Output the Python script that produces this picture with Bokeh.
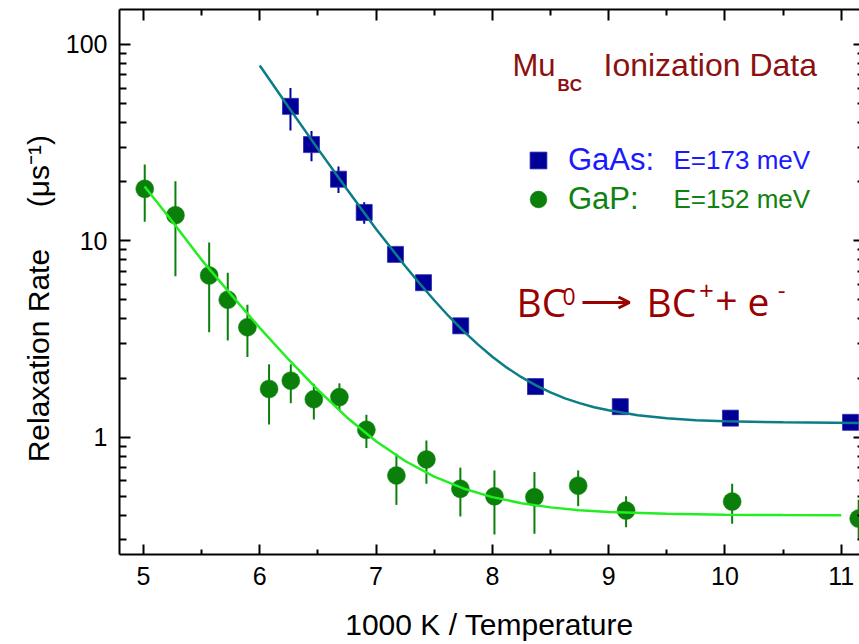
import math
from bokeh.plotting import figure
from bokeh.models import (FixedTicker, LinearAxis, LogAxis, Label, Legend, LegendItem,
                          Range1d, CustomJSTickFormatter, Arrow, OpenHead)
from bokeh.embed import file_html
from bokeh.resources import INLINE

# ---------------- data ----------------
gaas_x = [6.264, 6.445, 6.677, 6.898, 7.167, 7.408, 7.728, 8.371, 9.10, 10.047, 11.08]
gaas_y = [48.4, 30.9, 20.6, 13.95, 8.53, 6.12, 3.69, 1.81, 1.43, 1.25, 1.19]
gaas_lo = [36.5, 25.4, 17.5, 12.2, 8.2, 5.9, 3.58, 1.76, 1.40, 1.22, 1.16]
gaas_hi = [60.0, 36.3, 23.9, 15.7, 8.9, 6.35, 3.8, 1.86, 1.46, 1.28, 1.22]

gap_x = [5.011, 5.275, 5.565, 5.725, 5.894, 6.080, 6.267, 6.465, 6.685, 6.917,
         7.175, 7.433, 7.725, 8.018, 8.362, 8.738, 9.150, 10.062, 11.15]
gap_y = [18.4, 13.5, 6.66, 5.01, 3.63, 1.76, 1.94, 1.56, 1.60, 1.09,
         0.638, 0.770, 0.546, 0.50, 0.495, 0.566, 0.423, 0.470, 0.385]
gap_lo = [12.5, 6.6, 3.42, 3.11, 2.56, 1.16, 1.49, 1.23, 1.37, 0.88,
          0.452, 0.579, 0.395, 0.319, 0.322, 0.445, 0.348, 0.362, 0.30]
gap_hi = [24.5, 20.1, 9.8, 6.88, 4.73, 2.35, 2.35, 1.87, 1.88, 1.30,
          0.823, 0.962, 0.70, 0.677, 0.664, 0.677, 0.50, 0.579, 0.48]

gaas_fit_x = [6.0, 6.25, 6.5, 6.75, 7.0, 7.25, 7.375, 7.5, 7.625, 7.75, 7.875, 8.0,
              8.125, 8.25, 8.375, 8.5, 8.625, 8.75, 8.875, 9.0, 9.25, 9.5, 9.75,
              10.0, 10.5, 11.16]
gaas_fit_y = [78.1, 47.8, 29.4, 18.3, 11.5, 7.45, 6.06, 4.98, 4.13, 3.48, 2.97, 2.57,
              2.26, 2.02, 1.835, 1.69, 1.577, 1.49, 1.42, 1.37, 1.293, 1.25, 1.221,
              1.205, 1.19, 1.18]

gap_fit_x = [5.01, 5.25, 5.5, 5.75, 6.0, 6.25, 6.5, 6.75, 7.0, 7.25, 7.5, 7.75,
             8.0, 8.25, 8.5, 8.75, 9.0, 9.5, 10.0, 10.5, 11.0]
gap_fit_y = [18.9, 12.5, 8.0, 5.35, 3.6, 2.48, 1.74, 1.26, 0.953, 0.756, 0.629, 0.548,
             0.495, 0.461, 0.439, 0.425, 0.416, 0.407, 0.403, 0.401, 0.400]

x_ticks = [5, 6, 7, 8, 9, 10, 11]
x_minor = [5.5, 6.5, 7.5, 8.5, 9.5, 10.5]
y_ticks = [1, 10, 100]
y_minor = [0.3, 0.4, 0.5, 0.6, 0.7, 0.8, 0.9, 2, 3, 4, 5, 6, 7, 8, 9,
           20, 30, 40, 50, 60, 70, 80, 90]

# ---------------- colours / fonts ----------------
SANS = "Liberation Sans"
SQ_COL = "#000099"
CIR_COL = "#0a800a"
TEAL = "#0b7d86"
LIME = "#22ee22"
TITLE_COL = "#8b1010"
EQ_COL = "#9b0000"
BLUE_TXT = "#1a1aff"
GREEN_TXT = "#0f820f"

p = figure(width=859, height=644, output_backend="svg", toolbar_location=None,
           y_axis_type="log",
           x_range=Range1d(4.794, 11.157), y_range=Range1d(0.2526, 150.7),
           min_border_left=119, min_border_right=0, min_border_top=9,
           min_border_bottom=90)
p.outline_line_color = None
p.grid.visible = False
p.background_fill_color = "white"
p.border_fill_color = "white"

# error bars
p.segment(x0=gap_x, y0=gap_lo, x1=gap_x, y1=gap_hi, line_color=CIR_COL, line_width=2)
p.segment(x0=gaas_x, y0=gaas_lo, x1=gaas_x, y1=gaas_hi, line_color=SQ_COL, line_width=2)

# markers
cir = p.scatter(gap_x, gap_y, marker="circle", size=18, fill_color=CIR_COL,
                line_color=CIR_COL, line_width=0.5)
sq = p.scatter(gaas_x, gaas_y, marker="square", size=16, fill_color=SQ_COL,
               line_color="#2b2bb0", line_width=0.8)

# fit curves
p.line(gap_fit_x, gap_fit_y, line_color=LIME, line_width=2.5)
p.line(gaas_fit_x, gaas_fit_y, line_color=TEAL, line_width=2.5)

# ---------------- axes ----------------
xb = p.xaxis[0]
yl = p.yaxis[0]
xb.ticker = FixedTicker(ticks=x_ticks, minor_ticks=x_minor)
yl.ticker = FixedTicker(ticks=y_ticks, minor_ticks=y_minor)
yl.formatter = CustomJSTickFormatter(code="return String(tick)")

for ax in (xb, yl):
    ax.axis_line_width = 2
    ax.axis_line_color = "black"
    ax.major_tick_line_width = 2
    ax.minor_tick_line_width = 2
    ax.major_tick_out = 0
    ax.minor_tick_out = 0
    ax.major_label_text_font = SANS
    ax.major_label_text_font_size = "25px"
    ax.major_label_text_color = "black"
    ax.axis_label_text_font = SANS
    ax.axis_label_text_font_size = "30px"
    ax.axis_label_text_font_style = "normal"
    ax.axis_label_text_color = "black"

xb.major_tick_in = 10
xb.minor_tick_in = 5
xb.major_label_standoff = 12
xb.axis_label = "1000 K / Temperature"
xb.axis_label_standoff = 20

yl.major_tick_in = 11
yl.minor_tick_in = 7
yl.major_label_standoff = 12
yl.axis_label = ("Relaxation Rate\u00a0\u00a0\u00a0\u00a0\u00a0(\u03bcs\u207b\u00b9)"
                 "\u00a0\u00a0\u00a0\u00a0")
yl.axis_label_standoff = 8

top = LinearAxis(ticker=FixedTicker(ticks=x_ticks, minor_ticks=x_minor),
                 formatter=CustomJSTickFormatter(code="return ''"),
                 axis_line_width=2, major_tick_line_width=2, minor_tick_line_width=2,
                 major_tick_in=11, minor_tick_in=6, major_tick_out=0, minor_tick_out=0,
                 major_label_text_font_size="1px", major_label_standoff=0)
p.add_layout(top, "above")

right = LogAxis(ticker=FixedTicker(ticks=y_ticks, minor_ticks=y_minor),
                formatter=CustomJSTickFormatter(code="return ''"),
                axis_line_alpha=0, major_tick_line_width=2, minor_tick_line_width=2,
                major_tick_in=6, minor_tick_in=2, major_tick_out=0, minor_tick_out=0,
                major_label_text_font_size="1px", major_label_standoff=0)
p.add_layout(right, "right")

# ---------------- annotation placement (canvas px -> frame screen units) ----------------
FL, FB = 119, 554


def lab(px, py, text, size, color, font=SANS, style="normal", align="left",
        baseline="alphabetic"):
    # py is the wanted baseline (or centre for "middle"); small empirical correction
    corr = 0.4 * size if baseline == "alphabetic" else 0.1 * size
    p.add_layout(Label(x=px - FL, y=FB - (py - corr), x_units="screen", y_units="screen",
                       text=text, text_font_size=f"{size}px", text_color=color,
                       text_font=font, text_font_style=style, text_align=align,
                       text_baseline=baseline))


# title
lab(512, 77, "Mu", 31, TITLE_COL)
lab(557, 92, "BC", 17, TITLE_COL, style="bold")
lab(603, 77, "Ionization Data", 32, TITLE_COL)

# legends (one per series so the label colours differ)
for rend, name, col, cy in ((sq, "GaAs:", BLUE_TXT, 160), (cir, "GaP:", GREEN_TXT, 199)):
    leg = Legend(items=[LegendItem(label=name, renderers=[rend])],
                 location=(398, FB - (cy + 21)), padding=0, margin=0, spacing=0,
                 glyph_width=42, glyph_height=42, label_standoff=9,
                 label_text_font=SANS, label_text_font_size="31px",
                 label_text_color=col, border_line_color=None,
                 background_fill_alpha=0)
    p.add_layout(leg)

lab(673, 170, "E=173 meV", 26, BLUE_TXT)
lab(673, 209, "E=152 meV", 26, GREEN_TXT)

# reaction equation
EQF = "Open Sans"
lab(516, 317, "BC", 39, EQ_COL, font=EQF)
lab(562, 305, "0", 23, EQ_COL, font=EQF)
p.add_layout(Arrow(x_start=582 - FL, y_start=FB - 302, x_end=629 - FL, y_end=FB - 302,
                   start_units="screen", end_units="screen",
                   line_color=EQ_COL, line_width=3,
                   end=OpenHead(size=11, line_color=EQ_COL, line_width=3)))
lab(646, 317, "BC", 39, EQ_COL, font=EQF)
lab(706, 293, "+", 26, EQ_COL, font=EQF, align="center", baseline="middle")
lab(726, 303, "+", 39, EQ_COL, font=EQF, align="center", baseline="middle")
lab(747, 317, "e", 39, EQ_COL, font=EQF)
lab(781, 292, "-", 24, EQ_COL, font=EQF, align="center", baseline="middle")

open("out.html", "w").write(file_html(p, INLINE))
